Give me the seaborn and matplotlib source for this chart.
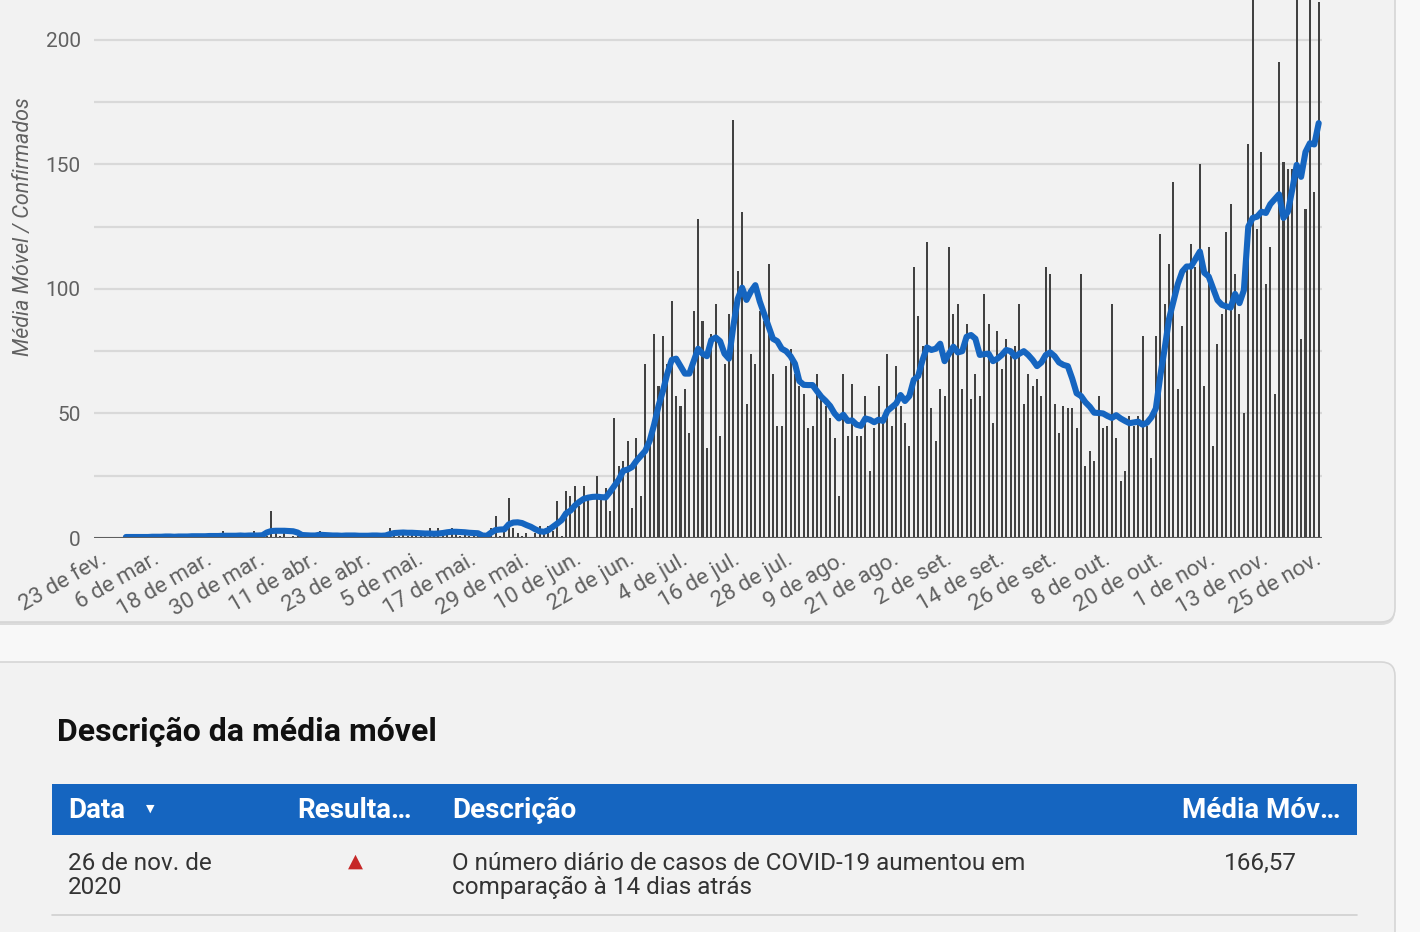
import numpy as np
import pandas as pd
import matplotlib
matplotlib.use('Agg')
import matplotlib.pyplot as plt
from matplotlib.patches import FancyBboxPatch
import seaborn as sns

# Daily confirmed cases, 23 Feb .. 26 Nov 2020 (one value per day)
confirmados = [
    0, 0, 0, 0, 0, 0, 1, 0, 0, 0,
    0, 0, 1, 0, 0, 1, 0, 0, 1, 0,
    0, 1, 0, 1, 0, 1, 1, 0, 3, 1,
    0, 1, 1, 0, 1, 3, 1, 0, 1, 11,
    2, 1, 2, 0, 1, 1, 0, 1, 0, 1,
    3, 0, 1, 1, 0, 1, 0, 1, 1, 0,
    1, 0, 1, 1, 0, 1, 4, 3, 1, 2,
    1, 2, 2, 1, 2, 4, 1, 4, 1, 2,
    4, 2, 1, 2, 1, 1, 2, 0, 1, 4,
    9, 1, 3, 16, 4, 2, 1, 2, 0, 2,
    5, 2, 5, 3, 15, 1, 19, 17, 21, 13,
    21, 17, 0, 25, 16, 20, 11,
    48, 29, 31, 39, 12, 40, 17, 70, 40, 82, 61, 81, 70, 95, 57, 53, 60,
    42, 91, 128, 87, 36, 82, 94, 41, 70, 90, 168, 107, 131, 54, 74, 70,
    91, 87, 110, 66, 45, 45, 69, 76, 66, 61, 58, 44, 45, 66, 57, 53, 48,
    40, 17, 66, 41, 62, 41, 41, 57, 27, 44, 61, 46, 74, 45, 69, 53, 46,
    37, 109, 89, 77, 119, 52, 39, 60, 57, 117, 90, 94, 60, 86, 56, 66,
    57, 98, 86, 46, 83, 68, 80, 73, 77, 94, 54, 66, 61, 64,
    57, 109, 106, 54, 42, 53, 52, 52, 44, 106, 29, 35, 31, 57, 44, 45,
    94, 40, 23, 27, 49, 45, 49, 81, 45, 32, 81,
    122, 94, 110, 143, 60, 85, 109, 118, 109, 150, 61, 117, 37, 78, 90,
    123, 134, 106, 90, 50, 158,
    222, 124, 155, 102, 117, 58, 191, 151, 148, 148, 228, 80, 132, 235, 139, 215,
]

# Moving average as drawn (starts on 29 Feb)
media_movel = [np.nan] * 6 + [
    0.4, 0.4, 0.4, 0.4,
    0.4, 0.4, 0.5, 0.5, 0.5, 0.6, 0.6, 0.5, 0.6, 0.6,
    0.6, 0.7, 0.7, 0.7, 0.7, 0.8, 0.8, 0.8, 0.9, 0.9,
    0.9, 0.9, 1.0, 0.9, 1.0, 1.0, 1.0, 1.1,
    2.2, 2.8, 2.9, 2.9, 2.9, 2.8, 2.7, 2.2,
    1.2, 1.1, 1.0, 1.0, 1.3, 1.2, 1.1, 1.0, 1.0, 0.9,
    1.0, 1.0, 1.0, 0.9, 0.9, 0.9, 1.0, 1.0, 0.9, 1.0,
    1.6, 2.0, 2.1, 2.2, 2.1, 2.1, 2.0, 1.9,
    1.8, 1.8, 1.7, 1.8, 2.0, 2.3, 2.5, 2.5, 2.4, 2.3, 2.1, 2.0, 1.9,
    1.0, 0.9,
    2.2, 3.2, 3.4, 3.5,
    5.5, 6.2, 6.3, 6.0,
    5.2, 4.5, 3.5, 2.7, 2.5,
    3.2, 4.5, 5.8, 7.2,
    9.9, 11.0, 13.0, 14.5, 15.7, 16.2, 16.5, 16.6, 16.4, 16.3, 18.5,
    21, 23.5, 27, 27.5, 28.5, 31, 33, 35, 39, 45.5, 53, 59, 66, 71.5, 72,
    69, 66, 66, 71, 76, 74, 73, 79.5, 80.5, 79, 74, 72, 85, 96, 100.5,
    95.6, 99, 101.5,
    95, 90, 85, 80, 79, 76, 75, 73, 70, 63, 61.5, 61.4, 61.4, 59, 56.7,
    55, 53, 50, 48, 49.5, 47, 47.2, 45.5, 45, 48, 47.5, 46.5, 47.5, 47,
    51, 52.5, 54, 57.4, 55,
    57, 63.5, 65, 71.5, 76.5, 75.5, 76, 78, 71, 74, 76.8, 74.5, 75, 80.8,
    81.5, 80, 73.5, 73.8, 74, 71, 72, 73.5, 75.5, 75, 72.8, 74, 75, 73.5,
    71.5, 69,
    70.5, 73.5, 74.5, 73, 70.5, 69.5, 69, 64, 58.1, 57, 54.5, 52.7, 50.3,
    50.2, 50, 49, 48.2, 49.3, 48, 47, 46.1, 46.4, 46.7, 45.5, 46.3, 48.5, 52,
    65, 76, 88, 95, 102, 107, 109, 109, 112, 115, 106.5, 105, 100.3, 95.5,
    93.6, 93, 92.5, 98, 94.3, 99.5, 125,
    128.5, 129, 131, 130.5, 134, 136, 138, 128.5, 131, 140, 149.8, 145, 155,
    158.5, 158, 166.57,
]

tick_labels = ['23 de fev.', '6 de mar.', '18 de mar.', '30 de mar.', '11 de abr.',
               '23 de abr.', '5 de mai.', '17 de mai.', '29 de mai.', '10 de jun.',
               '22 de jun.', '4 de jul.', '16 de jul.', '28 de jul.', '9 de ago.',
               '21 de ago.', '2 de set.', '14 de set.', '26 de set.', '8 de out.',
               '20 de out.', '1 de nov.', '13 de nov.', '25 de nov.']
tick_dias = list(range(0, 278, 12))

titulo_tabela = 'Descrição da média móvel'
colunas = ['Data', 'Resulta…', 'Descrição', 'Média Móv…']
linha_data = ['26 de nov. de', '2020']
linha_descricao = ['O número diário de casos de COVID-19 aumentou em', 'comparação à 14 dias atrás']
linha_media = '166,57'

assert len(confirmados) == 278 and len(media_movel) == 278

df = pd.DataFrame({'dia': np.arange(278), 'confirmados': confirmados, 'media': media_movel})

# Style
sns.set_style('white')
plt.rcParams['font.family'] = ['Roboto', 'DejaVu Sans']

blue = '#1565c0'
card = '#f2f2f2'
page = '#f8f8f8'
grey_txt = '#616161'

fig = plt.figure(figsize=(14.2, 9.32), dpi=100)
fig.patch.set_facecolor(page)

# background layer in pixel coordinates
bg = fig.add_axes([0, 0, 1, 1])
bg.set_xlim(0, 1420)
bg.set_ylim(932, 0)
bg.axis('off')

# card shadows + cards
bg.add_patch(FancyBboxPatch((-30, -30), 1425, 655, boxstyle='round,pad=0,rounding_size=14',
                            fc='#cfcfcf', ec='none', alpha=0.7))
bg.add_patch(FancyBboxPatch((-30, -30), 1425, 652, boxstyle='round,pad=0,rounding_size=14',
                            fc=card, ec='#d6d6d6', lw=1.2))
bg.add_patch(FancyBboxPatch((-30, 662), 1425, 330, boxstyle='round,pad=0,rounding_size=14',
                            fc=card, ec='#d6d6d6', lw=1.2))

# table
bg.text(57, 732, titulo_tabela, fontsize=23, fontweight='bold', color='#111111', va='center')
bg.add_patch(plt.Rectangle((52, 784), 1305, 51, fc=blue, ec='none'))
hdr = dict(fontsize=20, fontweight='bold', color='white', va='center')
bg.text(68, 810, colunas[0], **hdr)
bg.text(150, 809, '▼', fontsize=8, color='white', va='center', ha='center')
bg.text(297, 810, colunas[1], **hdr)
bg.text(452, 810, colunas[2], **hdr)
bg.text(1340, 810, colunas[3], ha='right', **hdr)
row = dict(fontsize=17.5, color='#333333', va='center')
bg.text(68, 863, linha_data[0], **row)
bg.text(68, 887, linha_data[1], **row)
bg.text(355, 862, '▲', fontsize=14, color='#c62828', va='center', ha='center')
bg.text(452, 863, linha_descricao[0], **row)
bg.text(452, 887, linha_descricao[1], **row)
bg.text(1297, 863, linha_media, ha='right', **row)
bg.plot([52, 1357], [915, 915], color='#d0d0d0', lw=1.2)

# chart
ax = fig.add_axes([94.5 / 1420, 1 - 538 / 932, (1322 - 94.5) / 1420, 538 / 932])
ax.set_facecolor('none')
sns.barplot(data=df, x='dia', y='confirmados', native_scale=True, color='#424242',
            saturation=1, width=0.46, errorbar=None, linewidth=0, edgecolor='none',
            ax=ax, zorder=2)
sns.lineplot(data=df, x='dia', y='media', color=blue, lw=4.4, ax=ax, zorder=3,
             solid_joinstyle='round', solid_capstyle='round')

ax.set_xlim(-1.14, 277.75)
ax.set_ylim(0, 216)
ax.set_yticks([0, 50, 100, 150, 200])
ax.set_yticks([25, 75, 125, 175], minor=True)
ax.grid(axis='y', which='both', color='#d9d9d9', lw=1.6, zorder=0)
ax.grid(axis='x', visible=False)
ax.set_axisbelow(True)
ax.axhline(0, color='#5f5f5f', lw=2.2, zorder=4)
for s in ax.spines.values():
    s.set_visible(False)
ax.tick_params(axis='y', which='both', length=0, pad=10, labelsize=15, labelcolor=grey_txt)
ax.set_xticks(tick_dias)
ax.set_xticklabels(tick_labels, rotation=30, ha='right', va='top', rotation_mode='anchor')
ax.tick_params(axis='x', length=0, pad=8, labelsize=16, labelcolor=grey_txt)
ax.set_xlabel('')
ax.set_ylabel('Média Móvel / Confirmados', fontsize=15.5, fontstyle='italic', color=grey_txt)
ax.yaxis.set_label_coords(-0.058, 0.578)
ax.yaxis.label.set_va('center')

fig.savefig('out.png', dpi=100, facecolor=fig.get_facecolor())
